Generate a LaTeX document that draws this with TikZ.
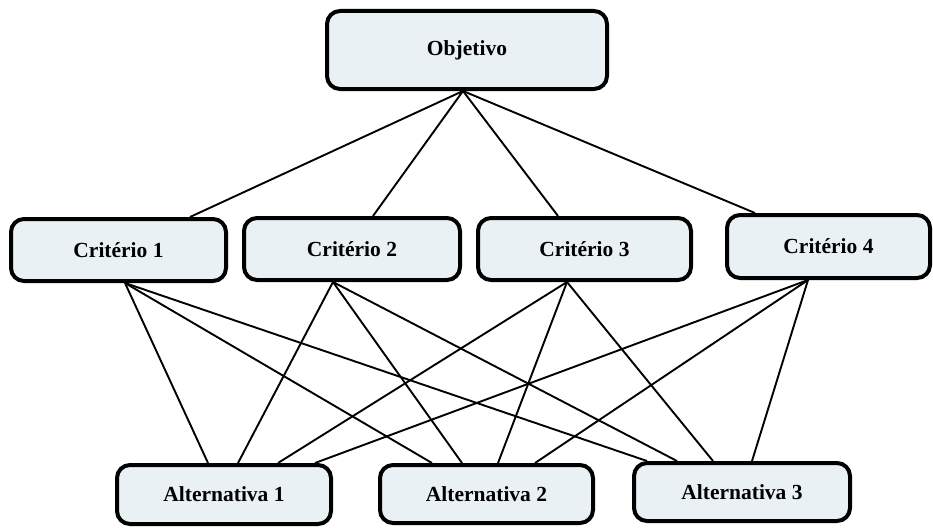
\documentclass[tikz,border=0pt]{standalone}
\usepackage{fontspec}
\setmainfont{Liberation Serif}
\usetikzlibrary{backgrounds}
\definecolor{boxfill}{RGB}{234,241,244}
\tikzset{
  box/.style={draw=black, line width=4pt, rounded corners=13pt, fill=boxfill,
    font=\fontsize{21.5}{25}\selectfont\bfseries, inner sep=0pt},
  link/.style={draw=black, line width=1.9pt}
}
\begin{document}
\begin{tikzpicture}[x=1pt,y=-1pt]
\useasboundingbox (0,0) rectangle (933,527);
\node[box, minimum width=280pt, minimum height=78pt] (obj) at (467,50) {Objetivo};
\node[box, minimum width=215pt, minimum height=62pt] (c1) at (118.5,250) {Critério 1};
\node[box, minimum width=216pt, minimum height=62pt] (c2) at (352,249) {Critério 2};
\node[box, minimum width=213pt, minimum height=62pt] (c3) at (584.5,249) {Critério 3};
\node[box, minimum width=203pt, minimum height=63pt] (c4) at (828.5,246.5) {Critério 4};
\node[box, minimum width=214pt, minimum height=59pt] (a1) at (224,494.5) {Alternativa 1};
\node[box, minimum width=213pt, minimum height=58pt] (a2) at (486.5,494) {Alternativa 2};
\node[box, minimum width=216pt, minimum height=58pt] (a3) at (742,492) {Alternativa 3};
\begin{pgfonlayer}{background}
\coordinate (o) at ([xshift=-4pt]obj.south);
\draw[link] (o) -- ([xshift=71.5pt]c1.north);
\draw[link] (o) -- ([xshift=21pt]c2.north);
\draw[link] (o) -- ([xshift=-26.5pt]c3.north);
\draw[link] (o) -- ([xshift=-73.5pt]c4.north);
\coordinate (b1) at ([xshift=6.5pt]c1.south);
\coordinate (b2) at ([xshift=-19pt]c2.south);
\coordinate (b3) at ([xshift=-17.5pt]c3.south);
\coordinate (b4) at ([xshift=-20.5pt]c4.south);
\draw[link] (b1) -- ([xshift=-16pt]a1.north);
\draw[link] (b2) -- ([xshift=14pt]a1.north);
\draw[link] (b3) -- ([xshift=54pt]a1.north);
\draw[link] (b4) -- ([xshift=91pt]a1.north);
\draw[link] (b1) -- ([xshift=-54.5pt]a2.north);
\draw[link] (b2) -- ([xshift=-24.5pt]a2.north);
\draw[link] (b3) -- ([xshift=11.5pt]a2.north);
\draw[link] (b4) -- ([xshift=48.5pt]a2.north);
\draw[link] (b1) -- ([xshift=-95pt]a3.north);
\draw[link] (b2) -- ([xshift=-65pt]a3.north);
\draw[link] (b3) -- ([xshift=-29pt]a3.north);
\draw[link] (b4) -- ([xshift=10pt]a3.north);
\end{pgfonlayer}
\end{tikzpicture}
\end{document}
